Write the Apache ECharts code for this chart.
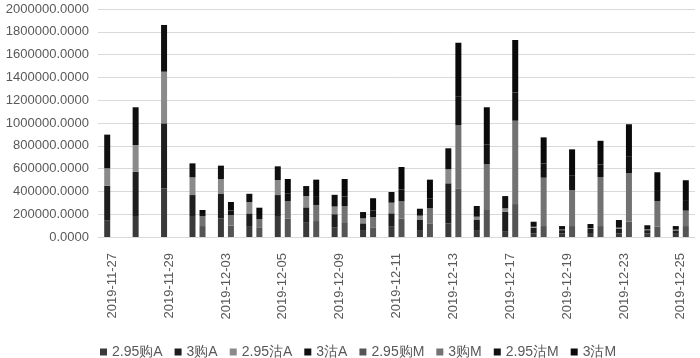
<!DOCTYPE html>
<html><head><meta charset="utf-8">
<script src="https://cdn.jsdelivr.net/npm/echarts@6/dist/echarts.min.js"></script>
<style>html,body{margin:0;padding:0;background:#fff;}#c{width:700px;height:358px;}</style>
</head><body><div id="c"></div>
<script>
const categories = ['2019-11-27','2019-11-28','2019-11-29','2019-12-02','2019-12-03','2019-12-04','2019-12-05','2019-12-06','2019-12-09','2019-12-10','2019-12-11','2019-12-12','2019-12-13','2019-12-16','2019-12-17','2019-12-18','2019-12-19','2019-12-20','2019-12-23','2019-12-24','2019-12-25'];
const seriesNames = ['2.95购A','3购A','2.95沽A','3沽A','2.95购M','3购M','2.95沽M','3沽M'];
const buy295A = [143000,184000,427000,184000,164000,96000,184000,125000,82000,61000,90000,61000,120000,61000,46000,32000,30000,35000,30000,30000,28000];
const buy3A   = [307000,389000,570000,184000,213000,111000,184000,135000,118000,59000,118000,88000,351000,88000,175000,50000,30000,35000,40000,30000,30000];
const put295A = [153000,234000,453000,155000,132000,99000,132000,99000,67000,44000,93000,38000,123000,29000,30000,8000,5000,6000,12000,6000,6000];
const put3A   = [295000,331000,410000,123000,117000,73000,120000,88000,103000,55000,94000,61000,184000,94000,108000,44000,31000,38000,67000,37000,32000];
const buy295M = [0,0,0,96000,100000,80000,160000,140000,130000,85000,160000,120000,427000,237000,289000,96000,96000,96000,134000,90000,96000];
const buy3M   = [0,0,0,88000,93000,78000,156000,141000,142000,88000,153000,132000,555000,401000,731000,424000,316000,430000,425000,226000,135000];
const put295M = [0,0,0,18000,40000,35000,68000,78000,83000,58000,105000,88000,253000,175000,248000,124000,125000,111000,150000,88000,93000];
const put3M   = [0,0,0,35000,74000,64000,125000,144000,154000,109000,196000,163000,469000,325000,460000,230000,232000,207000,280000,164000,174000];
const yTicks = [0,200000,400000,600000,800000,1000000,1200000,1400000,1600000,1800000,2000000];

const dataSets = [buy295A,buy3A,put295A,put3A,buy295M,buy3M,put295M,put3M];
const colors = ['#3a3a3a','#1e1e1e','#8a8a8a','#101010','#555555','#727272','#111111','#0a0a0a'];
const stacks = ['A','A','A','A','M','M','M','M'];

const chart = echarts.init(document.getElementById('c'), null, {renderer:'canvas'});
chart.setOption({
  animation:false,
  backgroundColor:'#fff',
  textStyle:{fontFamily:'Liberation Sans'},
  grid:{left:98,right:5,top:9,bottom:121,containLabel:false},
  legend:{
    left:95, top:340, itemWidth:7, itemHeight:7, itemGap:12, icon:'rect',
    textStyle:{color:'#595959',fontSize:14,fontFamily:'Liberation Sans'},
    data:seriesNames
  },
  xAxis:{
    type:'category', data:categories,
    axisLine:{lineStyle:{color:'#d9d9d9'}},
    axisTick:{show:false},
    axisLabel:{rotate:90,interval:1,color:'#595959',fontSize:13,margin:16}
  },
  yAxis:{
    type:'value', min:yTicks[0], max:yTicks[yTicks.length-1], interval:200000,
    axisLine:{show:false}, axisTick:{show:false},
    splitLine:{lineStyle:{color:'#d9d9d9'}},
    axisLabel:{color:'#595959',fontSize:13,margin:9,formatter:v=>v.toFixed(4)}
  },
  series: seriesNames.map((n,i)=>({
    name:n, type:'bar', stack:stacks[i], data:dataSets[i],
    barWidth:6, barGap:'67%',
    itemStyle:{color:colors[i]}
  }))
});
</script></body></html>
